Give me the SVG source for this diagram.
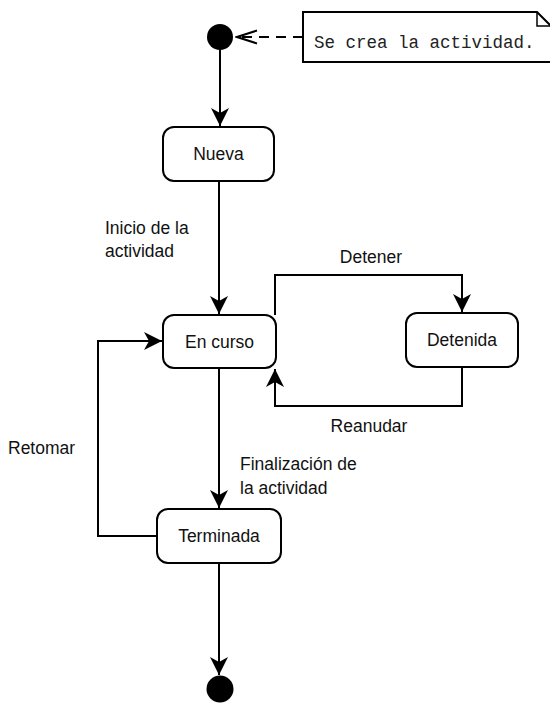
<svg xmlns="http://www.w3.org/2000/svg" width="550" height="707" viewBox="0 0 550 707">
<style>
.box{fill:#fff;stroke:#000;stroke-width:2}
.ln{fill:none;stroke:#000;stroke-width:2}
.t{font-family:"Liberation Sans",Arial,sans-serif;font-size:17.5px;fill:#111}
.c{text-anchor:middle}
.m{font-family:"Liberation Mono","Courier New",monospace;font-size:17.5px;fill:#222}
</style>
<defs>
<marker id="arr" markerUnits="userSpaceOnUse" markerWidth="20" markerHeight="20" viewBox="-18 -10 20 20" refX="0" refY="0" orient="auto">
<path d="M0,0 L-18,-9 L-13,0 L-18,9 Z" fill="#000"/>
</marker>
<marker id="open" markerUnits="userSpaceOnUse" markerWidth="24" markerHeight="20" viewBox="-22 -10 24 20" refX="0" refY="0" orient="auto">
<path d="M-20,-6.5 L0,0 L-20,6.5" fill="none" stroke="#000" stroke-width="2"/>
</marker>
</defs>
<g id="connectors">
<path class="ln" d="M303,37 H237" stroke-dasharray="10,7" marker-end="url(#open)"/>
<path class="ln" d="M220,50 V126" marker-end="url(#arr)"/>
<path class="ln" d="M219,181 V314" marker-end="url(#arr)"/>
<path class="ln" d="M275,315 V275 H462 V312" marker-end="url(#arr)"/>
<path class="ln" d="M462,367 V406 H275 V369" marker-end="url(#arr)"/>
<path class="ln" d="M219,368 V508" marker-end="url(#arr)"/>
<path class="ln" d="M157,536 H98 V341 H162" marker-end="url(#arr)"/>
<path class="ln" d="M219,563 V675" marker-end="url(#arr)"/>
<text class="t" x="105" y="234">Inicio de la</text>
<text class="t" x="105" y="257">actividad</text>
<text class="t c" x="371" y="263">Detener</text>
<text class="t c" x="369" y="432">Reanudar</text>
<text class="t" x="240" y="470">Finalización de</text>
<text class="t" x="240" y="494">la actividad</text>
<text class="t" x="8" y="454">Retomar</text>
</g>
<g id="start"><circle cx="220" cy="37" r="13" fill="#000"/></g>
<g id="note">
<path d="M303,12 H537 L551,26 V62 H303 Z" fill="#fff" stroke="#000" stroke-width="2"/>
<path d="M537,12 V26 H551" fill="none" stroke="#000" stroke-width="1.5"/>
<text class="m" x="314" y="48">Se crea la actividad.</text>
</g>
<g id="nueva"><rect class="box" x="163" y="127" width="111" height="54" rx="11"/><text class="t c" x="218.5" y="160">Nueva</text></g>
<g id="encurso"><rect class="box" x="163" y="315" width="113" height="53" rx="11"/><text class="t c" x="219.5" y="348">En curso</text></g>
<g id="detenida"><rect class="box" x="406" y="313" width="112" height="54" rx="11"/><text class="t c" x="462" y="346">Detenida</text></g>
<g id="terminada"><rect class="box" x="157" y="509" width="124" height="54" rx="11"/><text class="t c" x="219" y="542">Terminada</text></g>
<g id="end"><circle cx="220" cy="689" r="13.5" fill="#000"/></g>
</svg>
